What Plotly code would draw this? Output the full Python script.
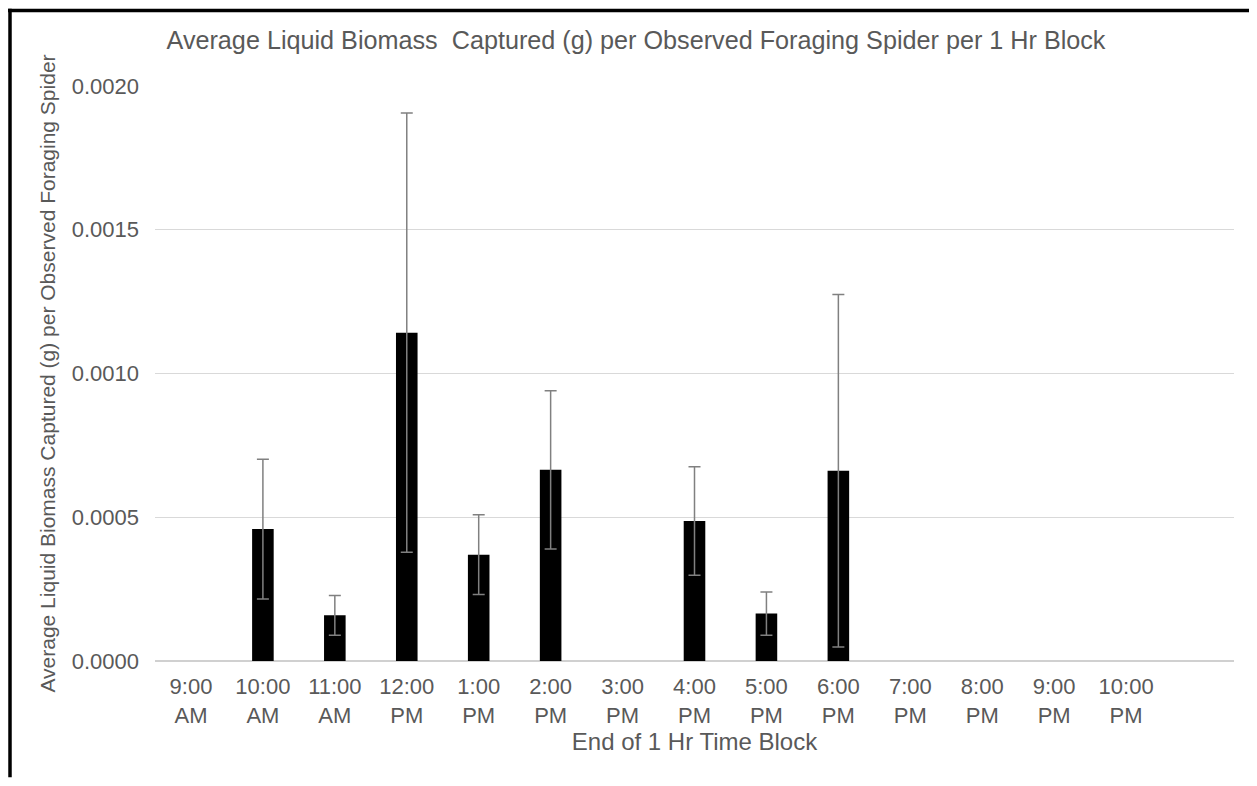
import plotly.graph_objects as go

categories = ["9:00<br>AM", "10:00<br>AM", "11:00<br>AM", "12:00<br>PM", "1:00<br>PM",
              "2:00<br>PM", "3:00<br>PM", "4:00<br>PM", "5:00<br>PM", "6:00<br>PM",
              "7:00<br>PM", "8:00<br>PM", "9:00<br>PM", "10:00<br>PM"]
means = [None, 0.000459, 0.000159, 0.001142, 0.000370, 0.000665, None, 0.000487,
         0.000165, 0.000662, None, None, None, None]
errors = [None, 0.000243, 0.000069, 0.000764, 0.000139, 0.000275, None, 0.000189,
          0.000075, 0.000613, None, None, None, None]

y_ticks = [0, 0.0005, 0.0010, 0.0015, 0.0020]
y_tick_text = ["0.0000", "0.0005", "0.0010", "0.0015", "0.0020"]

grey = "#595959"
font_family = "Liberation Sans, Arial, sans-serif"

# page body has an 8px margin, so the figure is sized to fit inside it
W, H = 1241, 770
L, R, T, B = 147, 15, 77.5, 116.5
PW = W - L - R
PH = H - T - B

fig = go.Figure()
fig.add_trace(go.Bar(
    x=categories, y=means, width=0.30,
    marker=dict(color="black", line=dict(width=0)),
    error_y=dict(type="data", array=errors, visible=True,
                 color="#808080", thickness=1.5, width=6),
    showlegend=False,
))

fig.update_layout(
    width=W, height=H,
    paper_bgcolor="white", plot_bgcolor="white",
    margin=dict(l=L, r=R, t=T, b=B, autoexpand=False),
    font=dict(family=font_family, color=grey),
    title=dict(text="Average Liquid Biomass  Captured (g) per Observed Foraging Spider per 1 Hr Block",
               x=628/W, xanchor="center", y=1 - 32/H, yanchor="middle",
               font=dict(size=25.2, color=grey)),
    xaxis=dict(
        type="category", categoryorder="array", categoryarray=categories,
        range=[-0.5, 14.5], showgrid=False, zeroline=False, showline=False,
        automargin=False,
        ticks="", tickfont=dict(size=22, color=grey), ticklabelstandoff=10,
        title=dict(text="End of 1 Hr Time Block", font=dict(size=24, color=grey), standoff=4),
    ),
    yaxis=dict(
        range=[0, 0.002], tickvals=y_ticks, ticktext=y_tick_text,
        automargin=False,
        showgrid=True, gridcolor="#d9d9d9", gridwidth=1,
        zeroline=True, zerolinecolor="#d0d0d0", zerolinewidth=1.5,
        showline=False, ticks="", tickfont=dict(size=22, color=grey),
        ticklabelstandoff=15,
        title=dict(text="Average Liquid Biomass Captured (g) per Observed Foraging Spider",
                   font=dict(size=21, color=grey), standoff=10),
    ),
    shapes=[
        dict(type="line", xref="paper", yref="paper",
             x0=(0 - L) / PW, x1=(W - L) / PW,
             y0=1 + (T - 1.75) / PH, y1=1 + (T - 1.75) / PH,
             line=dict(color="black", width=3.5)),
        dict(type="line", xref="paper", yref="paper",
             x0=(2 - L) / PW, x1=(2 - L) / PW,
             y0=1 + T / PH, y1=-B / PH,
             line=dict(color="black", width=3.5)),
    ],
)

fig.write_html("out.html")
